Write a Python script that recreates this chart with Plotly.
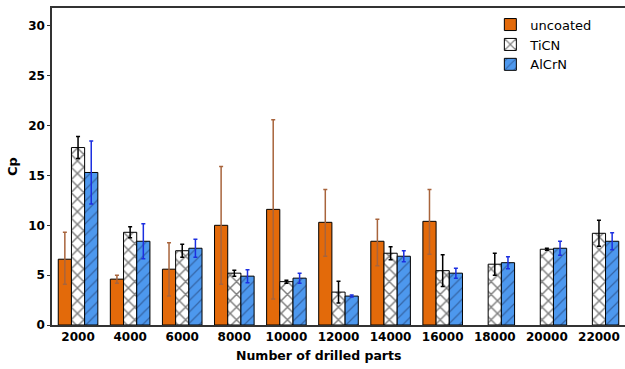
import plotly.graph_objects as go

categories = ["2000", "4000", "6000", "8000", "10000", "12000", "14000", "16000", "18000", "20000", "22000"]

uncoated = [6.6, 4.6, 5.6, 10.0, 11.6, 10.3, 8.4, 10.4, None, None, None]
uncoated_err_plus = [2.7, 0.4, 2.65, 5.9, 9.0, 3.3, 2.2, 3.2, None, None, None]
uncoated_err_minus = [2.5, 0.4, 2.7, 5.9, 9.0, 3.4, 2.45, 3.3, None, None, None]

ticn = [17.8, 9.3, 7.45, 5.2, 4.35, 3.3, 7.2, 5.45, 6.1, 7.6, 9.2]
ticn_err = [1.1, 0.55, 0.65, 0.3, 0.15, 1.1, 0.65, 1.6, 1.1, 0.1, 1.3]

alcrn = [15.3, 8.4, 7.7, 4.9, 4.7, 2.9, 6.9, 5.2, 6.25, 7.7, 8.4]
alcrn_err = [3.15, 1.75, 0.9, 0.65, 0.5, 0.1, 0.55, 0.5, 0.6, 0.7, 0.85]

fig = go.Figure()
fig.add_trace(go.Bar(
    name="uncoated", x=categories, y=uncoated,
    marker=dict(color="#e36a0a", line=dict(color="black", width=1)),
    error_y=dict(type="data", array=uncoated_err_plus, arrayminus=uncoated_err_minus,
                 symmetric=False, color="#a8643c", thickness=1.5, width=2),
))
fig.add_trace(go.Bar(
    name="TiCN", x=categories, y=ticn,
    marker=dict(color="white", line=dict(color="black", width=1),
                pattern=dict(shape="x", fgcolor="black", bgcolor="white", size=9, solidity=0.3)),
    error_y=dict(type="data", array=ticn_err, color="black", thickness=1.5, width=2),
))
fig.add_trace(go.Bar(
    name="AlCrN", x=categories, y=alcrn,
    marker=dict(color="#4d98ee", line=dict(color="black", width=1),
                pattern=dict(shape="/", fgcolor="#1b2f5a", bgcolor="#4d98ee", size=8, solidity=0.15)),
    error_y=dict(type="data", array=alcrn_err, color="#1c2fe0", thickness=1.5, width=2),
))

tickfont = dict(family="DejaVu Sans", size=12, color="black", weight="bold")

fig.update_layout(
    width=625, height=369,
    margin=dict(l=52, r=0, t=8, b=44),
    paper_bgcolor="white", plot_bgcolor="white",
    barmode="group", bargap=0.24, bargroupgap=0,
    showlegend=True,
    legend=dict(x=0.765, y=0.995, xanchor="left", yanchor="top",
                font=dict(family="DejaVu Sans", size=13, color="black"),
                bgcolor="rgba(0,0,0,0)", tracegroupgap=0),
    xaxis=dict(
        range=[-0.5, 10.5], showline=True, linecolor="#333333", linewidth=1.5,
        mirror=True, ticks="", tickfont=tickfont,
        showgrid=False, zeroline=False,
    ),
    yaxis=dict(
        range=[0, 31.8], showline=True, linecolor="#333333", linewidth=1.5,
        ticks="outside", ticklen=3, tickcolor="#333333", tickvals=[0, 5, 10, 15, 20, 25, 30],
        tickfont=tickfont, showgrid=False, zeroline=False,
        title=dict(text="Cp", font=dict(family="DejaVu Sans", size=13, color="black", weight="bold"), standoff=8),
    ),
    annotations=[dict(
        text="Number of drilled parts", xref="paper", yref="paper",
        x=(318 - 52) / 573, y=-(355 - 325) / 317, xanchor="center", yanchor="middle",
        showarrow=False, font=dict(family="DejaVu Sans", size=12.5, color="black", weight="bold"),
    )],
)

fig.write_html("out.html")
